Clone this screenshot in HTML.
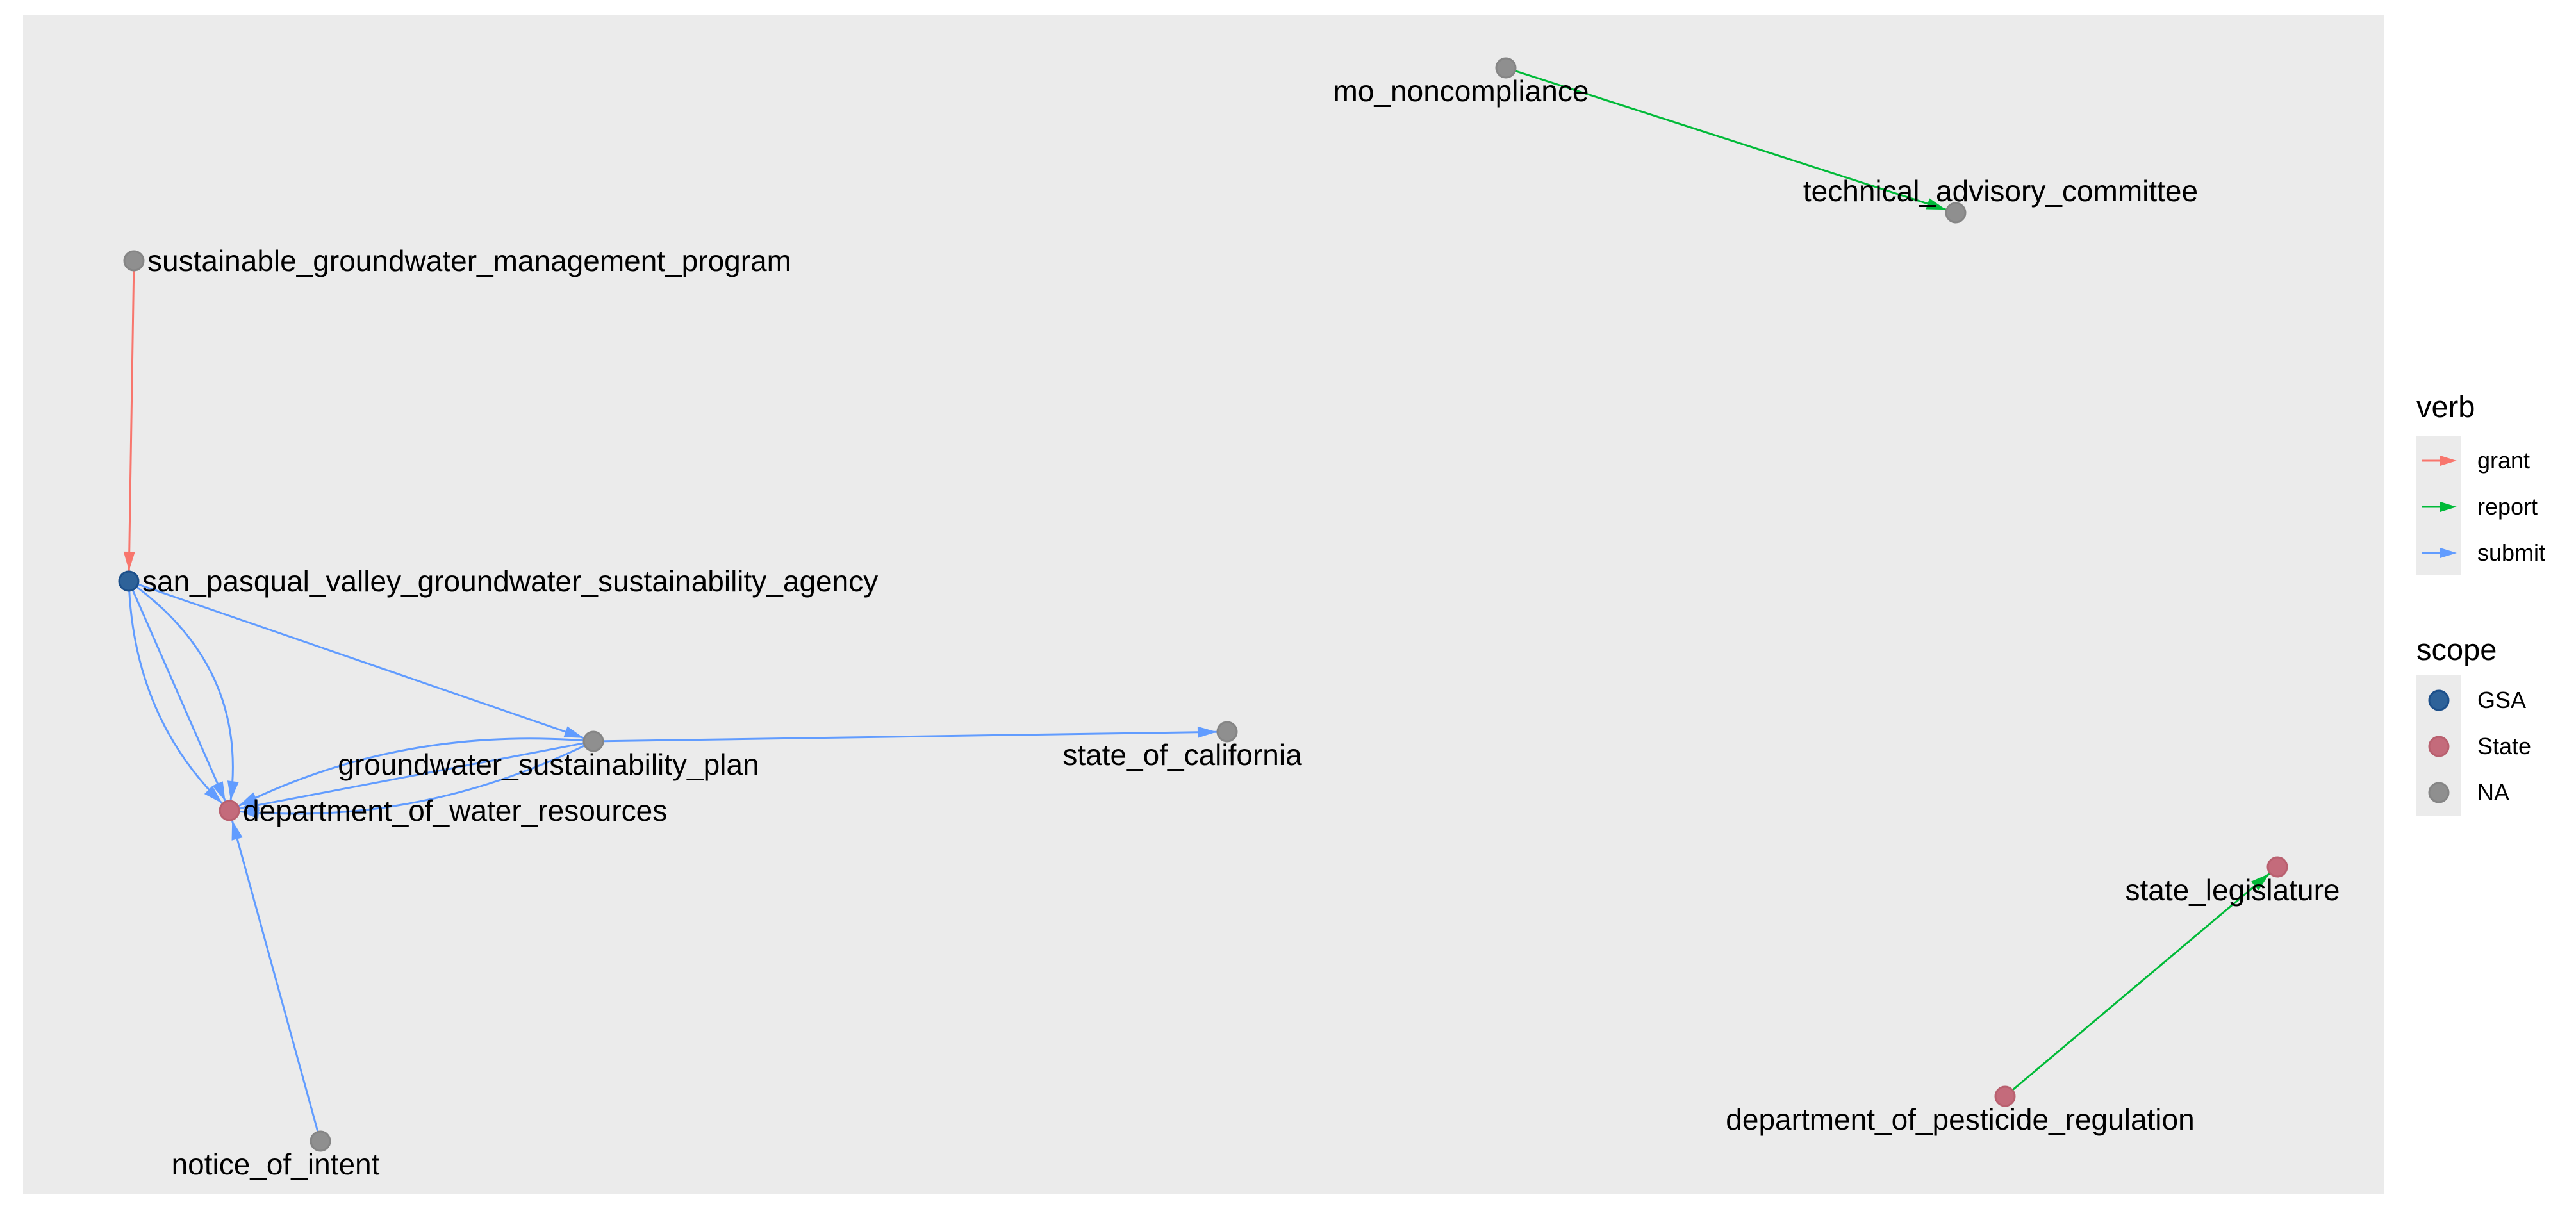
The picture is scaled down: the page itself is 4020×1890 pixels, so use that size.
<!DOCTYPE html>
<html><head><meta charset="utf-8"><style>
html,body{margin:0;padding:0;background:#fff;}
svg{display:block;font-family:"Liberation Sans",Arial,sans-serif;}
</style></head><body>
<svg id="chart" width="4020" height="1890" viewBox="0 0 4020 1890">
<rect x="36" y="23" width="3685" height="1840" fill="#EBEBEB"/>
<g id="edges"></g>
<g id="nodes"></g>
<g id="labels"></g>
<g id="legend">
 <text x="3771" y="651" font-size="47">verb</text>
 <rect x="3771" y="680" width="70" height="217" fill="#EBEBEB"/>
 <text x="3771" y="1030" font-size="47">scope</text>
 <rect x="3771" y="1054" width="70" height="219" fill="#EBEBEB"/>
</g>
</svg>
<script>
const nodeNames=["mo_noncompliance","technical_advisory_committee","sustainable_groundwater_management_program","san_pasqual_valley_groundwater_sustainability_agency","groundwater_sustainability_plan","state_of_california","department_of_water_resources","notice_of_intent","state_legislature","department_of_pesticide_regulation"];
const nodeX=[2350,3052,209,201,926,1915,358,500,3554,3129];
const nodeY=[106,332,407,907,1157,1142,1265,1781,1353,1711];
const nodeScope=["NA","NA","NA","GSA","NA","NA","State","NA","State","State"];
// label anchor: 0 = right of node, 1 = centered below-left, 2 = centered above-right
const labelMode=[1,2,0,0,1,1,0,1,1,1];
const edgeFrom=[2,0,9,3,3,3,3,4,4,4,4,7];
const edgeTo=[3,1,8,6,6,6,4,6,6,6,5,6];
const edgeVerb=["grant","report","report","submit","submit","submit","submit","submit","submit","submit","submit","submit"];
const edgeCurve=[0,0,0,-0.15,0,0.1,0,-0.07,0,0.07,0,0];
const verbs=["grant","report","submit"];
const verbColor={grant:"#F8766D",report:"#00BA38",submit:"#619CFF"};
const scopes=["GSA","State","NA"];
const scopeFill={GSA:"#2E6299",State:"#C46B7B",NA:"#8F8F8F"};
const scopeStroke={GSA:"#1C4F8A",State:"#B9606F",NA:"#858585"};
const NS="http://www.w3.org/2000/svg";
const E=document.getElementById("edges"),N=document.getElementById("nodes"),L=document.getElementById("labels"),LG=document.getElementById("legend");
function mk(t,a,p){const e=document.createElementNS(NS,t);for(const k in a)e.setAttribute(k,a[k]);p.appendChild(e);return e;}
function arrow(x,y,ang,col,p,len,w){const bx=x-len*Math.cos(ang),by=y-len*Math.sin(ang);const px=-Math.sin(ang)*w,py=Math.cos(ang)*w;
 return mk("polygon",{points:`${x},${y} ${bx+px},${by+py} ${bx-px},${by-py}`,fill:col},p);}
for(let i=0;i<edgeFrom.length;i++){
 const x1=nodeX[edgeFrom[i]],y1=nodeY[edgeFrom[i]],x2=nodeX[edgeTo[i]],y2=nodeY[edgeTo[i]];
 const dx=x2-x1,dy=y2-y1;
 const cx=(x1+x2)/2-dy*edgeCurve[i]*2,cy=(y1+y2)/2+dx*edgeCurve[i]*2;
 const col=verbColor[edgeVerb[i]];
 const ta=Math.atan2(y2-cy,x2-cx);const ex=x2-16*Math.cos(ta),ey=y2-16*Math.sin(ta);
 const g=mk("g",{},E);
 
 
 mk("path",{d:`M${x1},${y1} Q${cx},${cy} ${ex},${ey}`,fill:"none",stroke:col,"stroke-width":3},g);
 arrow(ex,ey,ta,col,g,30,9);
}
for(let i=0;i<nodeNames.length;i++){
 const s=nodeScope[i];
 const c=mk("circle",{cx:nodeX[i],cy:nodeY[i],r:15,fill:scopeFill[s],stroke:scopeStroke[s],"stroke-width":3},N);
 
 
 let t;
 if(labelMode[i]===0){t=mk("text",{x:nodeX[i]+21,y:nodeY[i]+16,"font-size":46},L);}
 else if(labelMode[i]===2){t=mk("text",{x:nodeX[i]+70,y:nodeY[i]-18,"font-size":46,"text-anchor":"middle"},L);}
 else{t=mk("text",{x:nodeX[i]-70,y:nodeY[i]+52,"font-size":46,"text-anchor":"middle"},L);}
 t.textContent=nodeNames[i];
 
 
}
for(let i=0;i<verbs.length;i++){
 const y=719+72*i,col=verbColor[verbs[i]];
 const g=mk("g",{},LG);
 
 
 mk("line",{x1:3779,y1:y,x2:3815,y2:y,stroke:col,"stroke-width":3},g);
 arrow(3834,y,0,col,g,26,8);
 const t=mk("text",{x:3866,y:y+12,"font-size":36},g);t.textContent=verbs[i];
}
for(let i=0;i<scopes.length;i++){
 const y=1093+72*i,s=scopes[i];
 const g=mk("g",{},LG);
 
 
 mk("circle",{cx:3806,cy:y,r:15,fill:scopeFill[s],stroke:scopeStroke[s],"stroke-width":3},g);
 const t=mk("text",{x:3866,y:y+12,"font-size":36},g);t.textContent=s;
}
</script>
</body></html>
